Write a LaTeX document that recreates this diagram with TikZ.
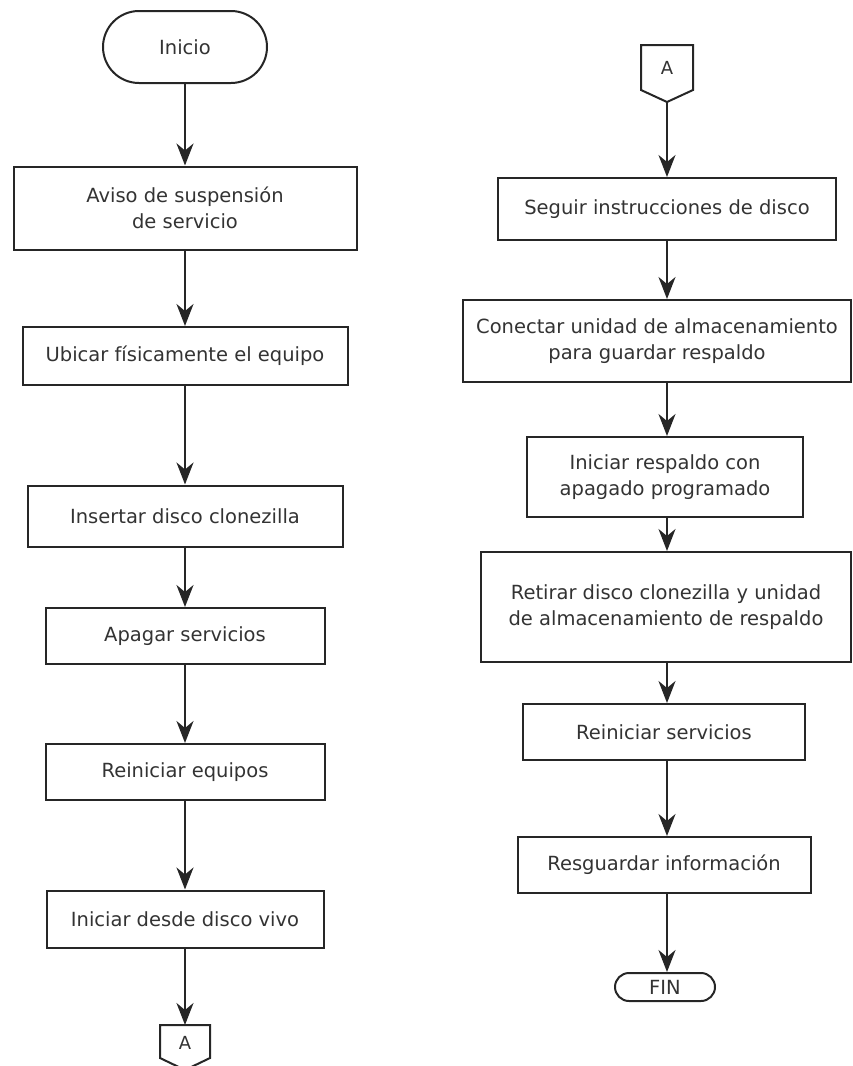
\documentclass[tikz,border=0pt]{standalone}
\usepackage{fontspec}
\setmainfont{DejaVu Sans}
\usetikzlibrary{arrows.meta}
\begin{document}
\begin{tikzpicture}[x=1pt,y=-1pt,
  box/.style={draw=black!85,line width=2pt,fill=white,align=center,inner sep=0pt,text=black!80,font=\fontsize{19.5}{26.5}\selectfont},
  term/.style={box},
  flow/.style={draw=black!85,line width=2pt,-{Stealth[length=22pt,width=17pt,inset=7pt]}},
  lbl/.style={inner sep=0pt,text=black!80,font=\fontsize{18}{20}\selectfont}]
\useasboundingbox (0,0) rectangle (853,1066);
% left column
\node[term,rounded corners=36pt,minimum width=164pt,minimum height=72pt] (ini) at (185,47) {Inicio};
\node[box,minimum width=343pt,minimum height=83pt] (b1) at (185,208) {Aviso de suspensión\\de servicio};
\node[box,minimum width=325pt,minimum height=58pt] (b2) at (185,356) {Ubicar físicamente el equipo};
\node[box,minimum width=315pt,minimum height=61pt] (b3) at (185,516) {Insertar disco clonezilla};
\node[box,minimum width=279pt,minimum height=56pt] (b4) at (185,636) {Apagar servicios};
\node[box,minimum width=279pt,minimum height=56pt] (b5) at (185,772) {Reiniciar equipos};
\node[box,minimum width=277pt,minimum height=57pt] (b6) at (185,919) {Iniciar desde disco vivo};
\coordinate (abtop) at (185,1025);
\node[lbl] (abl) at (185,1043) {A};
\draw[line width=2pt,draw=black!85] (160,1025) -- (210,1025) -- (210,1058) -- (185,1070) -- (160,1058) -- cycle;
\draw[flow] (ini) -- (b1);
\draw[flow] (b1) -- (b2);
\draw[flow] (b2) -- (b3);
\draw[flow] (b3) -- (b4);
\draw[flow] (b4) -- (b5);
\draw[flow] (b5) -- (b6);
\draw[flow] (b6) -- (abtop);
% right column
\node[lbl] (atl) at (667,68) {A};
\draw[line width=2pt,draw=black!85] (641,45) -- (693,45) -- (693,90) -- (667,102) -- (641,90) -- cycle;
\coordinate (attip) at (667,102);
\node[box,minimum width=338pt,minimum height=62pt] (r1) at (667,209) {Seguir instrucciones de disco};
\node[box,minimum width=388pt,minimum height=82pt] (r2) at (657,341) {Conectar unidad de almacenamiento\\para guardar respaldo};
\node[box,minimum width=276pt,minimum height=80pt] (r3) at (665,477) {Iniciar respaldo con\\apagado programado};
\node[box,minimum width=370pt,minimum height=110pt] (r4) at (666,607) {Retirar disco clonezilla y unidad\\de almacenamiento de respaldo};
\node[box,minimum width=282pt,minimum height=56pt] (r5) at (664,732) {Reiniciar servicios};
\node[box,minimum width=293pt,minimum height=56pt] (r6) at (664,865) {Resguardar información};
\node[term,rounded corners=14pt,minimum width=100pt,minimum height=28pt] (fin) at (665,987) {FIN};
\draw[flow] (attip) -- (attip |- r1.north);
\draw[flow] (r1.south -| attip) -- (attip |- r2.north);
\draw[flow] (r2.south -| attip) -- (attip |- r3.north);
\draw[flow] (r3.south -| attip) -- (attip |- r4.north);
\draw[flow] (r4.south -| attip) -- (attip |- r5.north);
\draw[flow] (r5.south -| attip) -- (attip |- r6.north);
\draw[flow] (r6.south -| attip) -- (attip |- fin.north);
\end{tikzpicture}
\end{document}
